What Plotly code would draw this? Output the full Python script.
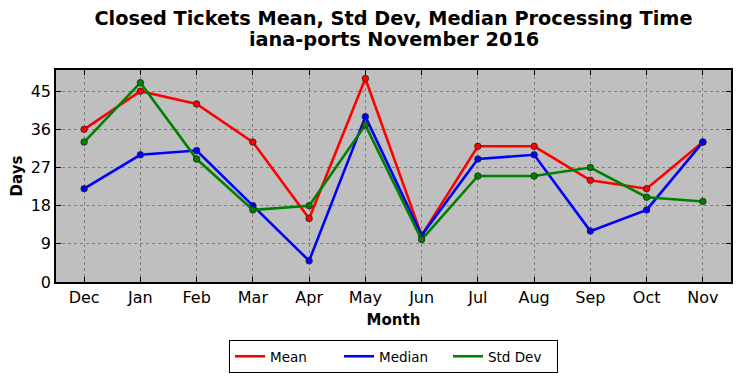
import plotly.graph_objects as go

months = ["Dec", "Jan", "Feb", "Mar", "Apr", "May", "Jun", "Jul", "Aug", "Sep", "Oct", "Nov"]
mean_days = [36, 45, 42, 33, 15, 48, 11, 32, 32, 24, 22, 33]
median_days = [22, 30, 31, 18, 5, 39, 11, 29, 30, 12, 17, 33]
std_days = [33, 47, 29, 17, 18, 37, 10, 25, 25, 27, 20, 19]
y_ticks = [0, 9, 18, 27, 36, 45]

font = "DejaVu Sans"
fig = go.Figure()
series = [("Mean", mean_days, "#ff0000"),
          ("Median", median_days, "#0000ff"),
          ("Std Dev", std_days, "#008000")]
for name, vals, col in series:
    fig.add_trace(go.Scatter(
        x=list(range(len(months))), y=vals, name=name, mode="lines+markers",
        line=dict(color=col, width=2.6), showlegend=False,
        marker=dict(color=col, size=6.5, line=dict(color="#222222", width=0.8)),
    ))
for name, vals, col in series:
    fig.add_trace(go.Scatter(
        x=[None], y=[None], name=name, mode="lines",
        line=dict(color=col, width=2.6), showlegend=True,
    ))

# page body has an 8px margin, so the figure is drawn 8px smaller and shifted
fig.update_layout(
    width=733, height=370,
    margin=dict(l=48, r=10, t=62, b=96, autoexpand=False),
    paper_bgcolor="white", plot_bgcolor="#bfbfbf",
    font=dict(family=font, size=16, color="black"),
    title=dict(text="<b>Closed Tickets Mean, Std Dev, Median Processing Time</b>",
               xref="paper", x=0.5, xanchor="center",
               yref="container", y=1 - 10 / 370, yanchor="middle",
               font=dict(size=19.3, family=font)),
    annotations=[dict(text="<b>iana-ports November 2016</b>", xref="paper", yref="paper",
                      x=0.5, y=1 + (62 - 31) / 212, xanchor="center", yanchor="middle",
                      showarrow=False, font=dict(size=19.3, family=font))],
    showlegend=True,
    legend=dict(orientation="h", x=0.5, xanchor="center",
                y=-0.2735, yanchor="top",
                bordercolor="black", borderwidth=1, font=dict(size=13.5, family=font),
                itemwidth=30, entrywidth=64, tracegroupgap=0),
)
fig.update_xaxes(
    range=[-0.5, 11.5], tickmode="array", tickvals=list(range(len(months))), ticktext=months,
    tickangle=0,
    showgrid=True, gridcolor="#808080", griddash="dot", gridwidth=1,
    showline=True, linecolor="black", linewidth=1.5, mirror="ticks",
    ticks="inside", ticklen=5, tickcolor="black",
    title=dict(text="<b>Month</b>", font=dict(size=15), standoff=9),
    zeroline=False,
)
fig.update_yaxes(
    range=[0, 50], tickmode="array", tickvals=y_ticks,
    showgrid=True, gridcolor="#808080", griddash="dot", gridwidth=1,
    showline=True, linecolor="black", linewidth=1.5, mirror="ticks",
    ticks="inside", ticklen=5, tickcolor="black",
    title=dict(text="<b>Days</b>", font=dict(size=15), standoff=5),
    zeroline=False,
)
fig.write_html("out.html")
